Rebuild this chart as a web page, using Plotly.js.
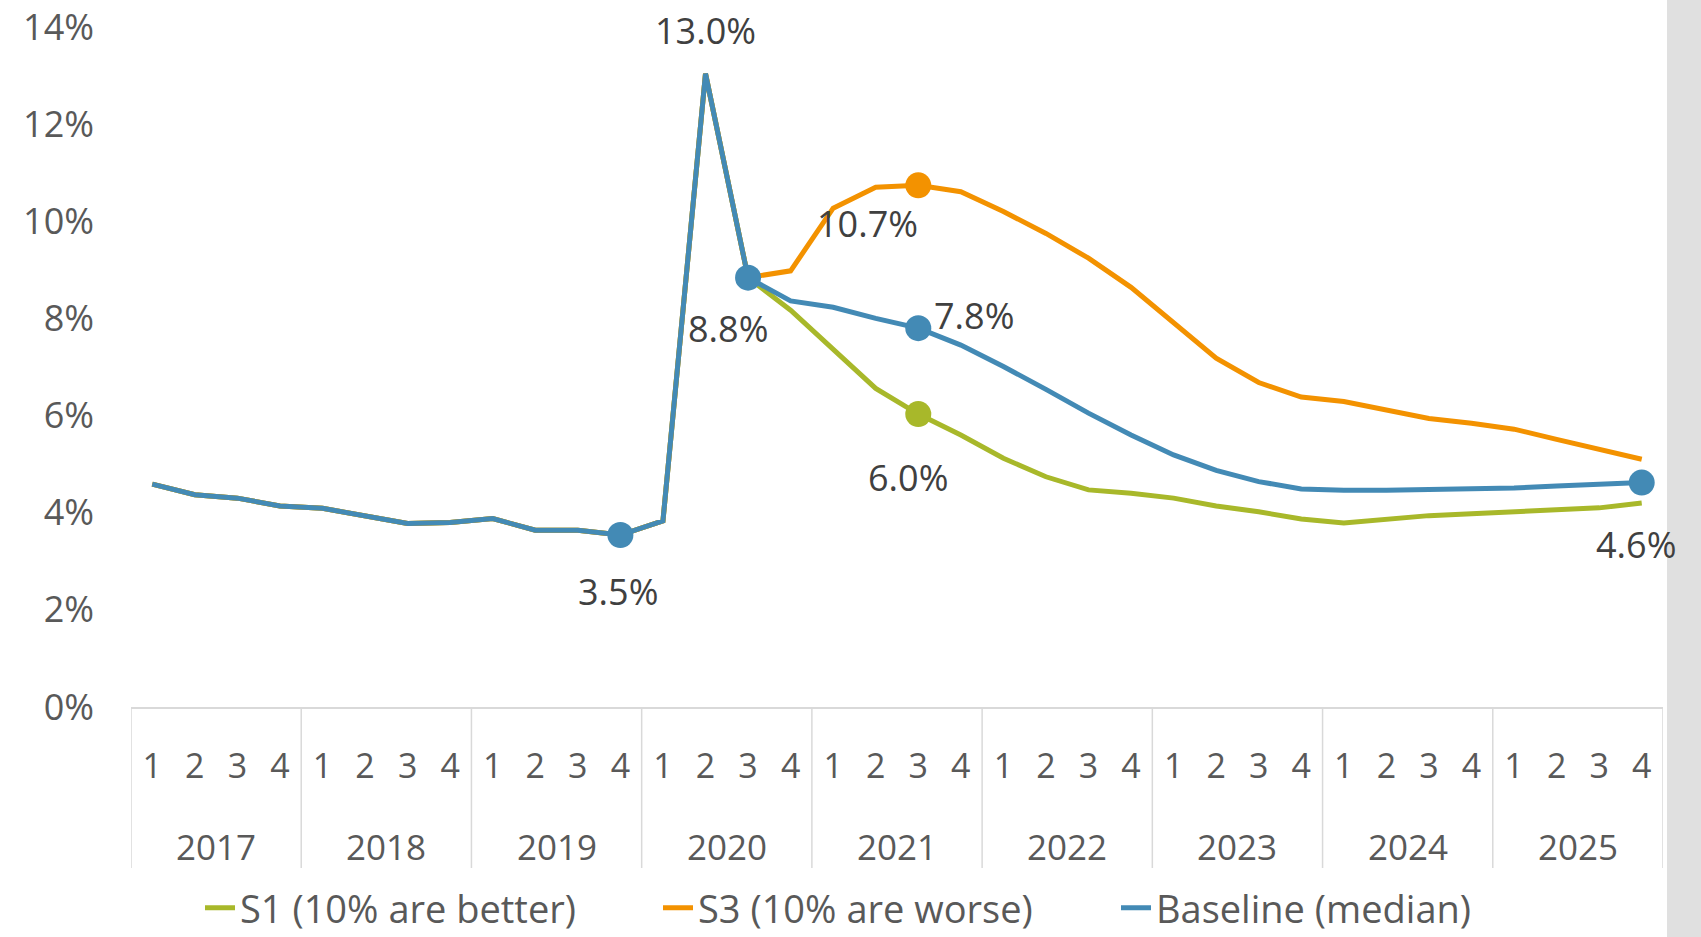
<!DOCTYPE html>
<html>
<head>
<meta charset="utf-8">
<script src="https://cdn.plot.ly/plotly-3.0.1.min.js"></script>
<style>
  html, body { margin: 0; padding: 0; background: #ffffff; }
  #chart { width: 1701px; height: 937px; }
</style>
</head>
<body>
<div id="chart"></div>
<script>
// ---- Data ----
const years = ['2017', '2018', '2019', '2020', '2021', '2022', '2023', '2024', '2025'];
const quarters = ['1', '2', '3', '4'];

// Rate in percent, quarterly 2017Q1 .. 2025Q4
const baseline = [4.59, 4.37, 4.30, 4.14, 4.09, 3.94, 3.78, 3.80, 3.88, 3.64, 3.64, 3.54,
                  3.83, 13.04, 8.84, 8.36, 8.23, 8.00, 7.80, 7.45, 7.01, 6.54, 6.05, 5.60,
                  5.19, 4.87, 4.64, 4.49, 4.46, 4.46, 4.47, 4.50, 4.51, 4.55, 4.58, 4.62];
const s1 = [4.59, 4.37, 4.30, 4.14, 4.09, 3.94, 3.78, 3.80, 3.88, 3.64, 3.64, 3.54,
            3.83, 13.04, 8.84, 8.17, 7.37, 6.56, 6.03, 5.60, 5.12, 4.74, 4.47, 4.40,
            4.30, 4.14, 4.02, 3.87, 3.79, 3.87, 3.94, 3.98, 4.02, 4.06, 4.10, 4.20];
const s3 = [4.59, 4.37, 4.30, 4.14, 4.09, 3.94, 3.78, 3.80, 3.88, 3.64, 3.64, 3.54,
            3.83, 13.04, 8.84, 8.98, 10.27, 10.70, 10.74, 10.61, 10.20, 9.75, 9.24, 8.64,
            7.90, 7.18, 6.68, 6.38, 6.29, 6.12, 5.94, 5.84, 5.72, 5.51, 5.31, 5.10];

const seriesNames = ['S1 (10% are better)', 'S3 (10% are worse)', 'Baseline (median)'];
const colors = {s1: '#A8B82A', s3: '#F39200', base: '#438AB5'};

// Highlighted (marker) points, by quarter index
const baseMarks = [11, 14, 18, 35];
const s1Marks = [18];
const s3Marks = [18];
// Labelled points: [series, index, xshift, yshift]
const labels = [
  ['base', 13, 0, 43],
  ['base', 14, -20, -51],
  ['base', 11, -2, -56],
  ['base', 18, 56, 13],
  ['base', 35, -6, -62],
  ['s3', 18, -51, -38],
  ['s1', 18, -10, -63]
];

// ---- Build ----
const n = years.length * quarters.length;
const xi = Array.from({length: n}, (_, i) => i);
const tickText = xi.map(i => quarters[i % 4]);
const frac = arr => arr.map(v => v / 100);
const seriesData = {base: baseline, s1: s1, s3: s3};

const font = '"Open Sans", "DejaVu Sans", sans-serif';
const LW = 5;
const MS = 26;

const traces = [
  {x: xi, y: frac(s1), type: 'scatter', mode: 'lines', name: seriesNames[0],
   line: {color: colors.s1, width: LW}, hoverinfo: 'skip'},
  {x: xi, y: frac(s3), type: 'scatter', mode: 'lines', name: seriesNames[1],
   line: {color: colors.s3, width: LW}, hoverinfo: 'skip'},
  {x: xi, y: frac(baseline), type: 'scatter', mode: 'lines', name: seriesNames[2],
   line: {color: colors.base, width: LW}, hoverinfo: 'skip'}
];
function markTrace(key, idx) {
  return {x: idx, y: idx.map(i => seriesData[key][i] / 100), type: 'scatter', mode: 'markers',
          marker: {color: colors[key], size: MS, line: {width: 0}}, showlegend: false, hoverinfo: 'skip'};
}
traces.push(markTrace('s1', s1Marks), markTrace('s3', s3Marks), markTrace('base', baseMarks));

const plotTop = 27, plotBottom = 707;
const plotH = plotBottom - plotTop;
const toPaper = py => (plotBottom - py) / plotH;

const annotations = labels.map(([k, i, dx, dy]) => ({
  x: i, y: seriesData[k][i] / 100, xref: 'x', yref: 'y',
  text: seriesData[k][i].toFixed(1) + '%', showarrow: false,
  xshift: dx, yshift: dy, xanchor: 'center', yanchor: 'middle',
  font: {family: font, size: 36, color: '#404040'}
}));
years.forEach((yr, k) => {
  annotations.push({
    x: k * 4 + 1.5, y: toPaper(846), xref: 'x', yref: 'paper',
    text: yr, showarrow: false, xanchor: 'center', yanchor: 'middle',
    font: {family: font, size: 35, color: '#595959'}
  });
});

const shapes = [];
for (let k = 0; k <= years.length; k++) {
  shapes.push({
    type: 'line', xref: 'x', yref: 'paper',
    x0: k * 4 - 0.5, x1: k * 4 - 0.5, y0: 0, y1: toPaper(868),
    line: {color: '#D9D9D9', width: 1.5}
  });
}
// grey strip at right edge
shapes.push({
  type: 'rect', xref: 'paper', yref: 'paper', layer: 'below',
  x0: (1667 - 131) / 1532, x1: (1701 - 131) / 1532, y0: toPaper(937), y1: toPaper(0),
  fillcolor: '#E0E0E0', line: {width: 0}
});

const layout = {
  width: 1701, height: 937,
  margin: {l: 131, r: 38, t: plotTop, b: 937 - plotBottom, pad: 0, autoexpand: false},
  paper_bgcolor: '#ffffff', plot_bgcolor: 'rgba(0,0,0,0)',
  font: {family: font, size: 34, color: '#595959'},
  showlegend: true,
  legend: {orientation: 'h', xref: 'container', yref: 'paper',
           x: 200 / 1701, xanchor: 'left', y: toPaper(908), yanchor: 'middle',
           entrywidth: 413, entrywidthmode: 'pixels', itemwidth: 30,
           font: {family: font, size: 38, color: '#595959'},
           traceorder: 'normal', bgcolor: 'rgba(0,0,0,0)'},
  xaxis: {
    range: [-0.5, n - 0.5], tickmode: 'array', tickvals: xi, ticktext: tickText,
    showgrid: false, zeroline: false, showline: true, linecolor: '#D9D9D9', linewidth: 2,
    ticks: '', ticklabelstandoff: 28, tickangle: 0, automargin: false,
    tickfont: {family: font, size: 34, color: '#595959'}, fixedrange: true
  },
  yaxis: {
    range: [0, 0.14], dtick: 0.02, tick0: 0, tickformat: '.0%',
    showgrid: false, zeroline: false, showline: false, ticks: '',
    ticklabelstandoff: 36, automargin: false,
    tickfont: {family: font, size: 36, color: '#595959'}, fixedrange: true
  },
  annotations: annotations,
  shapes: shapes
};

Plotly.newPlot('chart', traces, layout, {displayModeBar: false, staticPlot: true});
</script>
</body>
</html>
